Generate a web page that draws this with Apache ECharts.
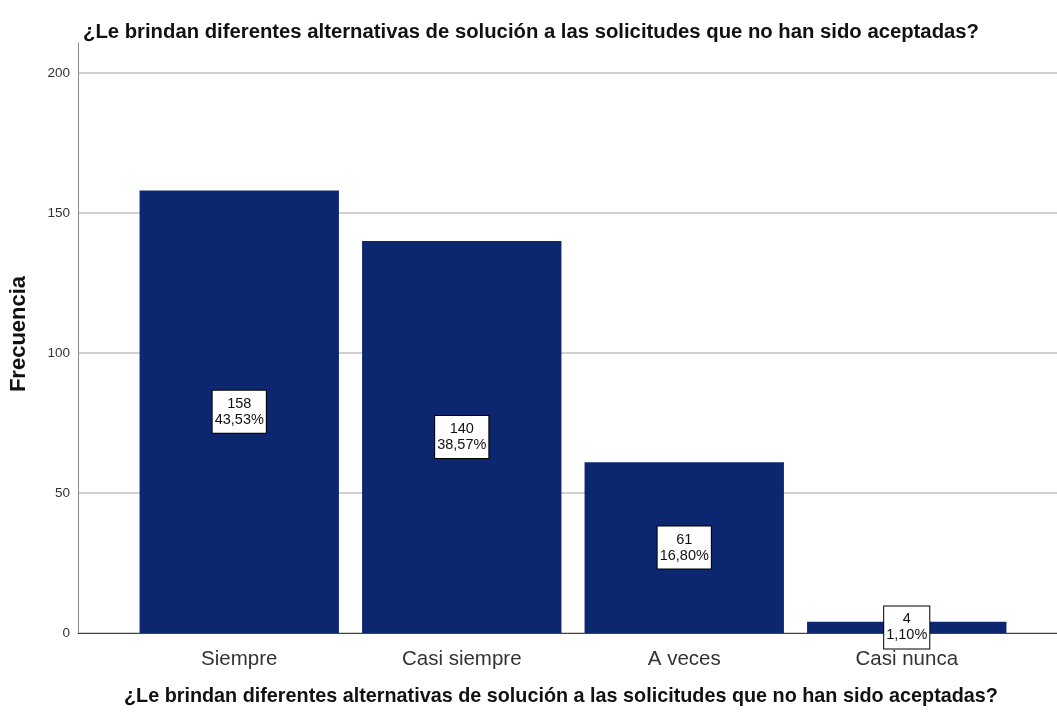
<!DOCTYPE html>
<html><head><meta charset="utf-8">
<script src="https://cdn.jsdelivr.net/npm/echarts@6/dist/echarts.min.js"></script>
<style>html,body{margin:0;padding:0;background:#fff}#c{width:1057px;height:717px}</style>
</head><body><div id="c"></div>
<script>
const titleText = '¿Le brindan diferentes alternativas de solución a las solicitudes que no han sido aceptadas?';
const categories = ['Siempre', 'Casi siempre', 'A veces', 'Casi nunca'];
const counts = [158, 140, 61, 4];
const percents = ['43,53%', '38,57%', '16,80%', '1,10%'];
const yTicks = [0, 50, 100, 150, 200];

const chart = echarts.init(document.getElementById('c'));
const yMax = 210.7;
chart.setOption({
  animation: false,
  title: [
    {text: titleText, left: 78, top: 17, textStyle: {fontFamily: 'Liberation Sans', fontSize: 20.3, fontWeight: 'bold', color: '#111'}},
    {text: titleText, left: 119, top: 682, textStyle: {fontFamily: 'Liberation Sans', fontSize: 19.8, fontWeight: 'bold', color: '#111'}}
  ],
  grid: [
    {left: 78, right: 0, top: 43, bottom: 84},
    {left: 128, right: 39, top: 43, bottom: 84}
  ],
  xAxis: [
    {gridIndex: 0, type: 'value', min: 0, max: 1, axisLine: {show: true, onZero: false, lineStyle: {color: '#444', width: 1}}, axisTick: {show: false}, axisLabel: {show: false}, splitLine: {show: false}},
    {gridIndex: 1, type: 'category', data: categories, axisLine: {show: false}, axisTick: {show: false},
     axisLabel: {fontFamily: 'Liberation Sans', fontSize: 20.5, color: '#333', margin: 16}}
  ],
  yAxis: [
    {gridIndex: 0, type: 'value', min: 0, max: yMax, interval: 50,
     axisLine: {show: true, lineStyle: {color: '#888', width: 1}}, axisTick: {show: false},
     axisLabel: {fontFamily: 'Liberation Sans', fontSize: 13.5, color: '#333', margin: 8, showMaxLabel: false,
       formatter: v => yTicks.includes(v) ? String(v) : ''},
     splitLine: {show: true, showMaxLine: false, lineStyle: {color: '#d0d0d0', width: 2}},
     name: 'Frecuencia', nameLocation: 'middle', nameGap: 48, nameRotate: 90,
     nameTextStyle: {fontFamily: 'Liberation Sans', fontSize: 22, fontWeight: 'bold', color: '#111', padding: [0, 0, 0, 8]}},
    {gridIndex: 1, type: 'value', min: 0, max: yMax, show: false, splitLine: {show: false}}
  ],
  series: [{
    type: 'bar', xAxisIndex: 1, yAxisIndex: 1, data: counts, barCategoryGap: '10.4%',
    itemStyle: {color: '#0c2670'},
    label: {show: true, position: 'inside', formatter: p => counts[p.dataIndex] + '\n' + percents[p.dataIndex],
      backgroundColor: '#fff', borderColor: '#000', borderWidth: 1, padding: [6, 2, 4, 2],
      fontFamily: 'Liberation Sans', fontSize: 14.5, lineHeight: 16, color: '#111', align: 'center'}
  }]
});
</script></body></html>
